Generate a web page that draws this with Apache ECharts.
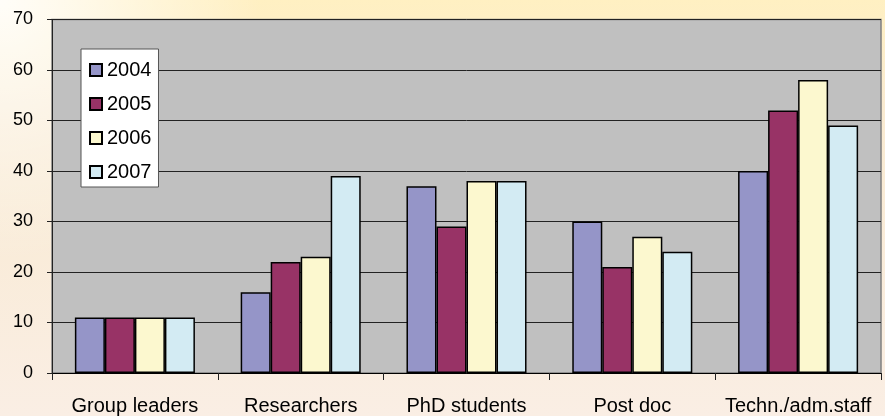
<!DOCTYPE html>
<html>
<head>
<meta charset="utf-8">
<script src="https://cdn.jsdelivr.net/npm/echarts@6/dist/echarts.min.js"></script>
<style>
  html, body { margin: 0; padding: 0; }
  #chart { width: 885px; height: 416px; }
</style>
</head>
<body>
<div id="chart"></div>
<script>
// Staff numbers per group, 2004–2007
const categories = ['Group leaders', 'Researchers', 'PhD students', 'Post doc', 'Techn./adm.staff'];
const years = ['2004', '2005', '2006', '2007'];
const values2004 = [11, 16, 37, 30, 40];
const values2005 = [11, 22, 29, 21, 52];
const values2006 = [11, 23, 38, 27, 58];
const values2007 = [11, 39, 38, 24, 49];
const yearColors = ['#9595C8', '#983366', '#FCF8CF', '#D3EBF3'];

const seriesValues = [values2004, values2005, values2006, values2007];
const font = 'Liberation Sans, Arial, sans-serif';

const chart = echarts.init(document.getElementById('chart'));
chart.setOption({
  animation: false,
  backgroundColor: {
    type: 'linear', x: 0, y: 0, x2: 0, y2: 1,
    colorStops: [
      { offset: 0, color: '#FFF0C2' },
      { offset: 0.25, color: '#F9EAD0' },
      { offset: 1, color: '#FAEEE4' }
    ]
  },
  graphic: [{
    type: 'circle',
    shape: { cx: 0, cy: 0, r: 260 },
    style: {
      fill: {
        type: 'radial', x: 0.5, y: 0.5, r: 0.5,
        colorStops: [
          { offset: 0, color: 'rgba(255,255,255,0.9)' },
          { offset: 1, color: 'rgba(255,255,255,0)' }
        ]
      }
    },
    z: -10,
    silent: true
  }],
  grid: {
    left: 52, right: 4, top: 19.5, bottom: 42,
    show: true,
    backgroundColor: '#C0C0C0',
    borderColor: '#808080',
    borderWidth: 1.5
  },
  legend: {
    orient: 'vertical',
    left: 81, top: 49,
    data: years,
    backgroundColor: '#FFFFFF',
    borderColor: '#555555',
    borderWidth: 1,
    padding: [11, 7, 5, 8],
    itemWidth: 12, itemHeight: 12,
    itemGap: 14,
    itemTextGap: 6,
    icon: 'rect',
    textStyle: { fontFamily: font, fontSize: 20, color: '#000', lineHeight: 20 }
  },
  xAxis: {
    type: 'category',
    data: categories,
    axisLine: { lineStyle: { color: '#000', width: 1 } },
    axisTick: { show: true, interval: 0, length: 7, lineStyle: { color: '#222' } },
    axisLabel: { interval: 0, fontFamily: font, fontSize: 20, color: '#000', margin: 23 },
    splitLine: { show: false }
  },
  yAxis: {
    type: 'value',
    min: 0, max: 70, interval: 10,
    axisLine: { show: true, lineStyle: { color: '#222', width: 1 } },
    axisTick: { show: true, length: 5, lineStyle: { color: '#222' } },
    axisLabel: { fontFamily: font, fontSize: 18, color: '#000', margin: 19 },
    splitLine: { show: true, lineStyle: { color: '#222', width: 1 } }
  },
  series: years.map((year, i) => ({
    name: year,
    type: 'bar',
    data: seriesValues[i],
    barGap: '0%',
    barCategoryGap: '27.6%',
    itemStyle: { color: yearColors[i], borderColor: '#000', borderWidth: 1.5 }
  }))
});
</script>
</body>
</html>
